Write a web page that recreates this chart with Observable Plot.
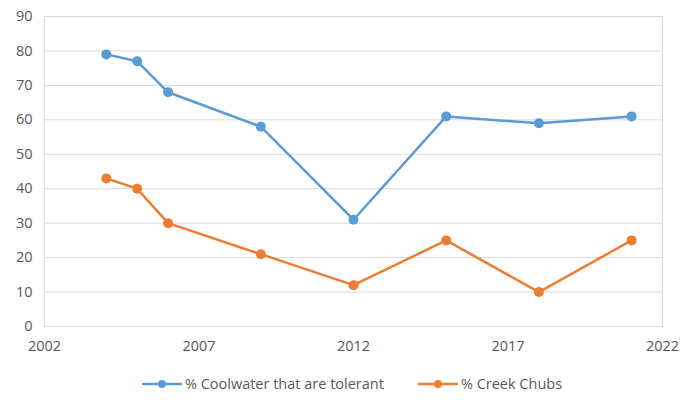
<!DOCTYPE html>
<html><head><meta charset="utf-8">
<script src="https://cdn.jsdelivr.net/npm/d3@7"></script>
<script src="https://cdn.jsdelivr.net/npm/@observablehq/plot@0.6"></script>
<style>
body{margin:0;background:#fff;font-family:"Open Sans","Liberation Sans",sans-serif;}
#wrap{width:684px;height:400px;position:relative;}
#legend{display:flex;justify-content:center;align-items:center;gap:34px;font-size:14.5px;color:#595959;margin-top:19px;padding-left:20px;}
#legend span{display:flex;align-items:center;gap:3px;}
</style></head>
<body><div id="wrap"><div id="chart"></div><div id="legend"></div></div>
<script>
const years = [2004, 2005, 2006, 2009, 2012, 2015, 2018, 2021];
const coolwater = [79, 77, 68, 58, 31, 61, 59, 61];
const creekChubs = [43, 40, 30, 21, 12, 25, 10, 25];
const seriesNames = ["% Coolwater that are tolerant", "% Creek Chubs"];
const seriesColors = ["#5B9BD5", "#ED7D31"];
const xTicks = [2002, 2007, 2012, 2017, 2022];
const yTicks = [0, 10, 20, 30, 40, 50, 60, 70, 80, 90];

const data = [];
years.forEach((y, i) => {
  data.push({year: y, value: coolwater[i], series: seriesNames[0]});
  data.push({year: y, value: creekChubs[i], series: seriesNames[1]});
});

const chart = Plot.plot({
  width: 684, height: 355,
  marginLeft: 44, marginRight: 22, marginTop: 16, marginBottom: 29,
  style: {fontFamily: "'Open Sans','Liberation Sans',sans-serif", fontSize: "14.5px", color: "#595959", background: "#fff"},
  x: {domain: [2002, 2022], ticks: xTicks, tickFormat: "d", tickSize: 0, tickPadding: 14, label: null},
  y: {domain: [0, 90], ticks: yTicks, tickSize: 0, tickPadding: 12, label: null},
  color: {domain: seriesNames, range: seriesColors},
  marks: [
    Plot.gridY(yTicks, {stroke: "#d9d9d9", strokeOpacity: 1, strokeWidth: 1}),
    Plot.frame({stroke: "#d9d9d9"}),
    Plot.axisX({ticks: xTicks, tickFormat: "d", tickSize: 0, tickPadding: 14, fill: "#595959"}),
    Plot.axisY({ticks: yTicks, tickSize: 0, tickPadding: 12, fill: "#595959"}),
    Plot.line(data, {x: "year", y: "value", stroke: "series", z: "series", strokeWidth: 2.5}),
    Plot.dot(data, {x: "year", y: "value", fill: "series", r: 5})
  ]
});
document.getElementById("chart").appendChild(chart);

const legend = document.getElementById("legend");
seriesNames.forEach((n, i) => {
  const s = document.createElement("span");
  s.innerHTML = `<svg width="40" height="12"><line x1="0" x2="40" y1="6" y2="6" stroke="${seriesColors[i]}" stroke-width="2.5"/><circle cx="20" cy="6" r="4" fill="${seriesColors[i]}"/></svg>${n}`;
  legend.appendChild(s);
});
</script></body></html>
